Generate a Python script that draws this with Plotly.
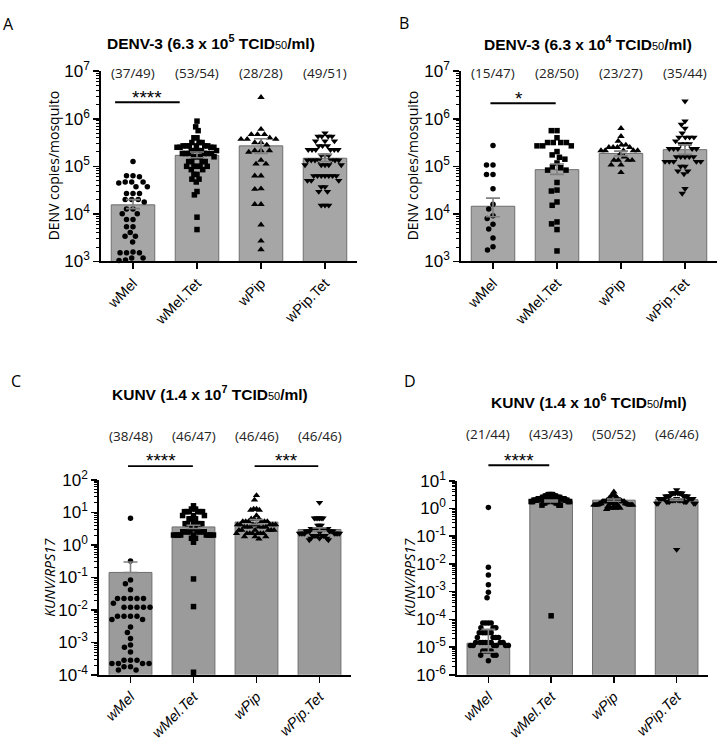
import numpy as np
import plotly.graph_objects as go

categories = ["wMel", "wMel.Tet", "wPip", "wPip.Tet"]

# ---------------- Panel A : DENV-3 (6.3 x 10^5) log10 copies/mosquito ----------------
A_wMel = [5.1, 4.8, 4.8, 4.78, 4.67, 4.67, 4.67, 4.65, 4.57, 4.57, 4.43, 4.43, 4.43, 4.3, 4.3, 4.3,
          4.25, 4.1, 4.1, 4.0, 4.0, 3.88, 3.88, 3.73, 3.73, 3.61, 3.53, 3.53, 3.41, 3.2, 3.18, 3.18,
          3.18, 3.07, 3.07, 3.03, 3.02]
A_wMelTet = [5.95, 5.83, 5.75, 5.6, 5.6, 5.5, 5.5, 5.5] + [5.43] * 6 + [5.4] * 4 + [5.33] * 5 + \
            [5.27] * 6 + [5.2] * 4 + [5.1] * 4 + [5.0] * 5 + [4.93] * 2 + [4.83] * 2 + [4.73] * 2 + \
            [4.67, 4.47, 4.4, 3.93, 3.67]
A_wPip = [6.45, 5.78, 5.67, 5.67, 5.67, 5.6, 5.57, 5.57, 5.57, 5.5, 5.5, 5.45, 5.33, 5.33, 5.33,
          5.3, 5.13, 5.05, 5.05, 4.8, 4.8, 4.53, 4.52, 4.2, 4.2, 3.77, 3.43, 3.25]
A_wPipTet = [5.7] + [5.63] * 4 + [5.53] * 3 + [5.43] * 3 + [5.35] * 6 + [5.23] * 3 + [5.13] * 7 + \
            [5.03] * 5 + [4.8] * 7 + [4.7] * 3 + [4.57] * 2 + [4.47] * 2 + [4.18] * 3
A_bar = [4.19, 5.23, 5.43, 5.17]
A_err_lo = [4.11, 5.18, 5.27, 5.10]
A_err_hi = [4.30, 5.30, 5.58, 5.25]
A_counts = ["(37/49)", "(53/54)", "(28/28)", "(49/51)"]

# ---------------- Panel B : DENV-3 (6.3 x 10^4) ----------------
B_wMel = [5.44, 5.03, 5.03, 4.83, 4.83, 4.53, 4.2, 4.1, 3.96, 3.9, 3.78, 3.68, 3.49, 3.31, 3.24]
B_wMelTet = [5.75, 5.75, 5.6, 5.5, 5.5, 5.5, 5.5, 5.43, 5.43, 5.43, 5.31, 5.24, 5.19, 5.15, 5.07,
             4.99, 4.97, 4.92, 4.92, 4.66, 4.5, 4.48, 4.25, 4.18, 3.83, 3.79, 3.67, 3.22]
B_wPip = [5.8, 5.63, 5.53, 5.45, 5.45] + [5.4] * 4 + [5.33] * 5 + [5.25, 5.2] + [5.13] * 4 + \
         [5.03] * 2 + [4.87]
B_wPipTet = [6.37, 5.95, 5.88, 5.8, 5.7] + [5.61] * 4 + [5.53] + [5.47] * 3 + [5.37] * 5 + \
            [5.2] * 5 + [5.1] * 5 + [5.0] * 2 + [4.9] * 2 + [4.84, 4.53, 4.43]
B_bar = [4.16, 4.93, 5.27, 5.35]
B_err_lo = [3.94, 4.83, 5.22, 5.25]
B_err_hi = [4.33, 5.05, 5.32, 5.45]
B_counts = ["(15/47)", "(28/50)", "(23/27)", "(35/44)"]

# ---------------- Panel C : KUNV (1.4 x 10^7) log10 KUNV/RPS17 ----------------
C_wMel = [0.82, -0.5, -1.08, -1.2, -1.38] + [-1.65] * 5 + [-1.8] + [-1.92] * 5 + [-2.2] * 4 + \
         [-2.3] * 2 + [-2.53, -2.7, -2.88, -3.08, -3.15, -3.3] + [-3.55] * 3 + [-3.65] * 4 + \
         [-3.75] * 2 + [-3.85] * 2
C_wMelTet = [1.2] + [1.1] * 2 + [1.02] * 6 + [0.9] * 3 + [0.8] * 3 + [0.65] * 6 + [0.5] * 2 + \
            [0.4] * 8 + [0.3] * 9 + [0.2] * 2 + [0.08, -1.05, -1.9, -3.92]
C_wPip = [1.52, 1.38] + [1.1] * 2 + [1.07] * 2 + [0.9] + [0.8] * 3 + [0.72] * 6 + [0.62] * 7 + \
         [0.55] * 6 + [0.45] * 6 + [0.35] * 7 + [0.25] * 3 + [0.18]
C_wPipTet = [1.3] + [0.82] * 6 + [0.6] * 3 + [0.5] * 8 + [0.42] * 8 + [0.35] * 8 + [0.28] * 7 + \
            [0.2] * 3 + [0.15] * 2
C_bar = [-0.85, 0.55, 0.70, 0.47]
C_err_lo = [-0.85, 0.50, 0.63, 0.43]
C_err_hi = [-0.53, 0.60, 0.78, 0.52]
C_counts = ["(38/48)", "(46/47)", "(46/46)", "(46/46)"]

# ---------------- Panel D : KUNV (1.4 x 10^6) ----------------
D_wMel = [0.04, -2.12, -2.4, -2.75, -3.02, -3.22] + [-4.13] * 4 + [-4.3] * 3 + [-4.48] * 5 + \
         [-4.65] * 4 + [-4.83] * 8 + [-4.94] * 6 + [-5.14] * 4 + [-5.29] * 3 + [-5.49]
D_wMelTet = [0.5] * 4 + [0.45] * 4 + [0.4] * 5 + [0.35] * 6 + [0.3] * 8 + [0.25] * 8 + [0.2] * 4 + \
            [0.12] * 3 + [-3.87]
D_wPip = [0.6] + [0.48] * 3 + [0.38] * 4 + [0.3] * 6 + [0.25] * 8 + [0.2] * 2 + [0.18] * 6 + \
         [0.15] * 2 + [0.13] * 8 + [0.07] * 5 + [0.01] * 4 + [-0.03]
D_wPipTet = [0.67] + [0.55] * 8 + [0.45] * 8 + [0.36] * 10 + [0.3] * 8 + [0.24] * 6 + [0.18] * 4 + [-1.48]
D_bar = [-4.86, 0.27, 0.30, 0.32]
D_err_lo = [-5.18, 0.24, 0.26, 0.29]
D_err_hi = [-4.36, 0.30, 0.34, 0.35]
D_counts = ["(21/44)", "(43/43)", "(50/52)", "(46/46)"]

W, H = 720, 746
FONT_AR = "Liberation Sans, Arial, sans-serif"
FONT_OS = "Open Sans, Noto Sans, sans-serif"


def px_x(px):
    return px / W


def px_y(py):
    return 1 - py / H


def swarm(logvals, px_per_dec, px_per_cat, d=6.5, cap=20.0):
    ys = np.array(logvals, dtype=float) * px_per_dec
    order = np.argsort(-ys, kind="stable")
    placed = []
    offs = np.zeros(len(ys))
    for i in order:
        y = ys[i]
        cands = [0.0]
        for (xj, yj) in placed:
            dy = abs(y - yj)
            if dy < d:
                dx = np.sqrt(d * d - dy * dy)
                cands += [xj + dx, xj - dx]
        cands.sort(key=lambda c: (round(abs(c), 6), c))
        chosen = cands[-1]
        for c in cands:
            if all((c - xj) ** 2 + (y - yj) ** 2 >= d * d - 1e-6 for xj, yj in placed):
                chosen = c
                break
        offs[i] = chosen
        placed.append((chosen, y))
    m = np.max(np.abs(offs)) if len(offs) else 0
    if m > cap:
        offs *= cap / m
    return offs / px_per_cat


panels = [
    dict(groups=[A_wMel, A_wMelTet, A_wPip, A_wPipTet], bar=A_bar, lo=A_err_lo, hi=A_err_hi,
         counts=A_counts, xdom=(101, 357), ytop=61, ybot=257, yr=(3, 7), barcol="#a6a6a6",
         italic=False),
    dict(groups=[B_wMel, B_wMelTet, B_wPip, B_wPipTet], bar=B_bar, lo=B_err_lo, hi=B_err_hi,
         counts=B_counts, xdom=(461, 717), ytop=61, ybot=257, yr=(3, 7), barcol="#a6a6a6",
         italic=False),
    dict(groups=[C_wMel, C_wMelTet, C_wPip, C_wPipTet], bar=C_bar, lo=C_err_lo, hi=C_err_hi,
         counts=C_counts, xdom=(99, 351), ytop=482, ybot=683, yr=(-4, 2), barcol="#9b9b9b",
         italic=True),
    dict(groups=[D_wMel, D_wMelTet, D_wPip, D_wPipTet], bar=D_bar, lo=D_err_lo, hi=D_err_hi,
         counts=D_counts, xdom=(457, 708), ytop=483, ybot=683, yr=(-6, 1), barcol="#9b9b9b",
         italic=True),
]

symbols = ["circle", "square", "triangle-up", "triangle-down"]
msizes = [5.5, 5.5, 6.5, 6.5]

fig = go.Figure()
layout = dict(width=W, height=H, margin=dict(l=0, r=0, t=0, b=0), plot_bgcolor="white",
              paper_bgcolor="white", showlegend=False, hovermode=False)
annotations = []
shapes = []


def ann(**kw):
    base = dict(showarrow=False, xanchor="center", yanchor="middle")
    base.update(kw)
    annotations.append(base)


for pi, p in enumerate(panels):
    n = pi + 1
    xa = "x" if n == 1 else f"x{n}"
    ya = "y" if n == 1 else f"y{n}"
    px_per_cat = (p["xdom"][1] - p["xdom"][0]) / 4.0
    px_per_dec = (p["ybot"] - p["ytop"]) / (p["yr"][1] - p["yr"][0])
    bar_vals = [10 ** v for v in p["bar"]]
    fig.add_trace(go.Bar(x=list(range(4)), y=bar_vals, width=0.68, xaxis=xa, yaxis=ya,
                         marker=dict(color=p["barcol"], line=dict(color="#6e6e6e", width=1)),
                         hoverinfo="skip"))
    for gi, g in enumerate(p["groups"]):
        offs = swarm(g, px_per_dec, px_per_cat)
        fig.add_trace(go.Scatter(x=gi + offs, y=[10 ** v for v in g], mode="markers",
                                 xaxis=xa, yaxis=ya,
                                 marker=dict(symbol=symbols[gi], size=msizes[gi], color="black",
                                             line=dict(width=0)),
                                 cliponaxis=False, hoverinfo="skip"))
    # error bars on top
    ep = [10 ** h - 10 ** b for h, b in zip(p["hi"], p["bar"])]
    em = [10 ** b - 10 ** l for l, b in zip(p["lo"], p["bar"])]
    fig.add_trace(go.Scatter(x=list(range(4)), y=bar_vals, mode="markers", xaxis=xa, yaxis=ya,
                             marker=dict(size=1, opacity=0),
                             error_y=dict(type="data", array=ep, arrayminus=em, symmetric=False,
                                          color="#808080", thickness=1.6, width=7),
                             hoverinfo="skip"))
    lo, hi = p["yr"]
    tickvals = [10.0 ** k for k in range(lo, hi + 1)]
    ticktext = [f"10<sup>{k}</sup>" for k in range(lo, hi + 1)]
    minor_vals = [m * 10.0 ** k for k in range(lo, hi) for m in range(2, 10)]
    labels = [f"<i>{c}</i>" for c in categories] if p["italic"] else categories
    xkey = "xaxis" if n == 1 else f"xaxis{n}"
    ykey = "yaxis" if n == 1 else f"yaxis{n}"
    layout[xkey] = dict(domain=[px_x(p["xdom"][0]), px_x(p["xdom"][1])], anchor=ya,
                        range=[-0.5, 3.5], tickmode="array", tickvals=list(range(4)),
                        ticktext=labels, tickangle=-45, showline=True, linecolor="black",
                        linewidth=1.8, ticks="outside", ticklen=6, tickwidth=1.5,
                        tickcolor="black", showgrid=False, zeroline=False, fixedrange=True,
                        tickfont=dict(family=FONT_AR, size=14.5, color="black"))
    layout[ykey] = dict(domain=[px_y(p["ybot"]), px_y(p["ytop"])], anchor=xa, type="log",
                        range=[lo, hi], tickmode="array", tickvals=tickvals, ticktext=ticktext,
                        showline=True, linecolor="black", linewidth=1.8, ticks="outside",
                        ticklen=6, tickwidth=1.5, tickcolor="black", showgrid=False,
                        zeroline=False, fixedrange=True,
                        tickfont=dict(family=FONT_AR, size=17, color="black"),
                        minor=dict(tickmode="array", tickvals=minor_vals, ticks="outside",
                                   ticklen=3.5, tickwidth=1, tickcolor="black", showgrid=False))
    # count labels
    cy = {0: 63, 1: 63, 2: 437, 3: 435}[pi]
    for i, t in enumerate(p["counts"]):
        ann(x=i, xref=xa, y=px_y(cy), yref="paper", text=t,
            font=dict(family=FONT_OS, size=13.5, color="#222"))

# titles
sub50 = "<span style='font-weight:normal;font-size:11px'>50</span>"
titles = [
    (f"DENV-3 (6.3 x 10<sup>5</sup> TCID{sub50}/ml)", 211, 31),
    (f"DENV-3 (6.3 x 10<sup>4</sup> TCID{sub50}/ml)", 588, 32),
    (f"KUNV (1.4 x 10<sup>7</sup> TCID{sub50}/ml)", 210, 393),
    (f"KUNV (1.4 x 10<sup>6</sup> TCID{sub50}/ml)", 589, 401),
]
for t, x, y in titles:
    ann(x=px_x(x), y=px_y(y), xref="paper", yref="paper", text=f"<b>{t}</b>",
        font=dict(family=FONT_AR, size=15.5, color="black"))

# panel letters
for t, x, y in [("A", 8, 12), ("B", 404, 11), ("C", 16, 380), ("D", 410, 380)]:
    ann(x=px_x(x), y=px_y(y), xref="paper", yref="paper", text=t,
        font=dict(family=FONT_OS, size=16, color="black"))

# y axis titles
for t, x, y in [("DENV copies/mosquito", 53, 158), ("DENV copies/mosquito", 412, 158),
                ("<i>KUNV/RPS17</i>", 50, 583), ("<i>KUNV/RPS17</i>", 410, 583)]:
    ann(x=px_x(x), y=px_y(y), xref="paper", yref="paper", text=t, textangle=-90,
        font=dict(family=FONT_OS, size=14, color="black"))

# significance lines and stars
sig = [("x", -0.28, 0.73, 93, "****", 0.22, 84),
       ("x2", -0.04, 0.98, 94, "*", 0.41, 85),
       ("x3", -0.04, 0.99, 468, "****", 0.49, 458),
       ("x3", 1.97, 2.98, 468, "***", 2.48, 458),
       ("x4", 0.0, 0.97, 467, "****", 0.48, 458)]
for xa, x0, x1, ly, st, sx, sy in sig:
    shapes.append(dict(type="line", xref=xa, yref="paper", x0=x0, x1=x1, y0=px_y(ly), y1=px_y(ly),
                       line=dict(color="black", width=1.8)))
    ann(x=sx, xref=xa, y=px_y(sy + 4), yref="paper", text=st,
        font=dict(family=FONT_AR, size=19, color="black"))

layout["annotations"] = annotations
layout["shapes"] = shapes
fig.update_layout(**layout)
fig.write_html(
    "out.html",
    config={"displayModeBar": False, "staticPlot": True},
    post_script="document.body.style.margin='0';document.body.style.padding='0';"
                "document.documentElement.style.overflow='hidden';"
                "document.body.style.overflow='hidden';",
)
